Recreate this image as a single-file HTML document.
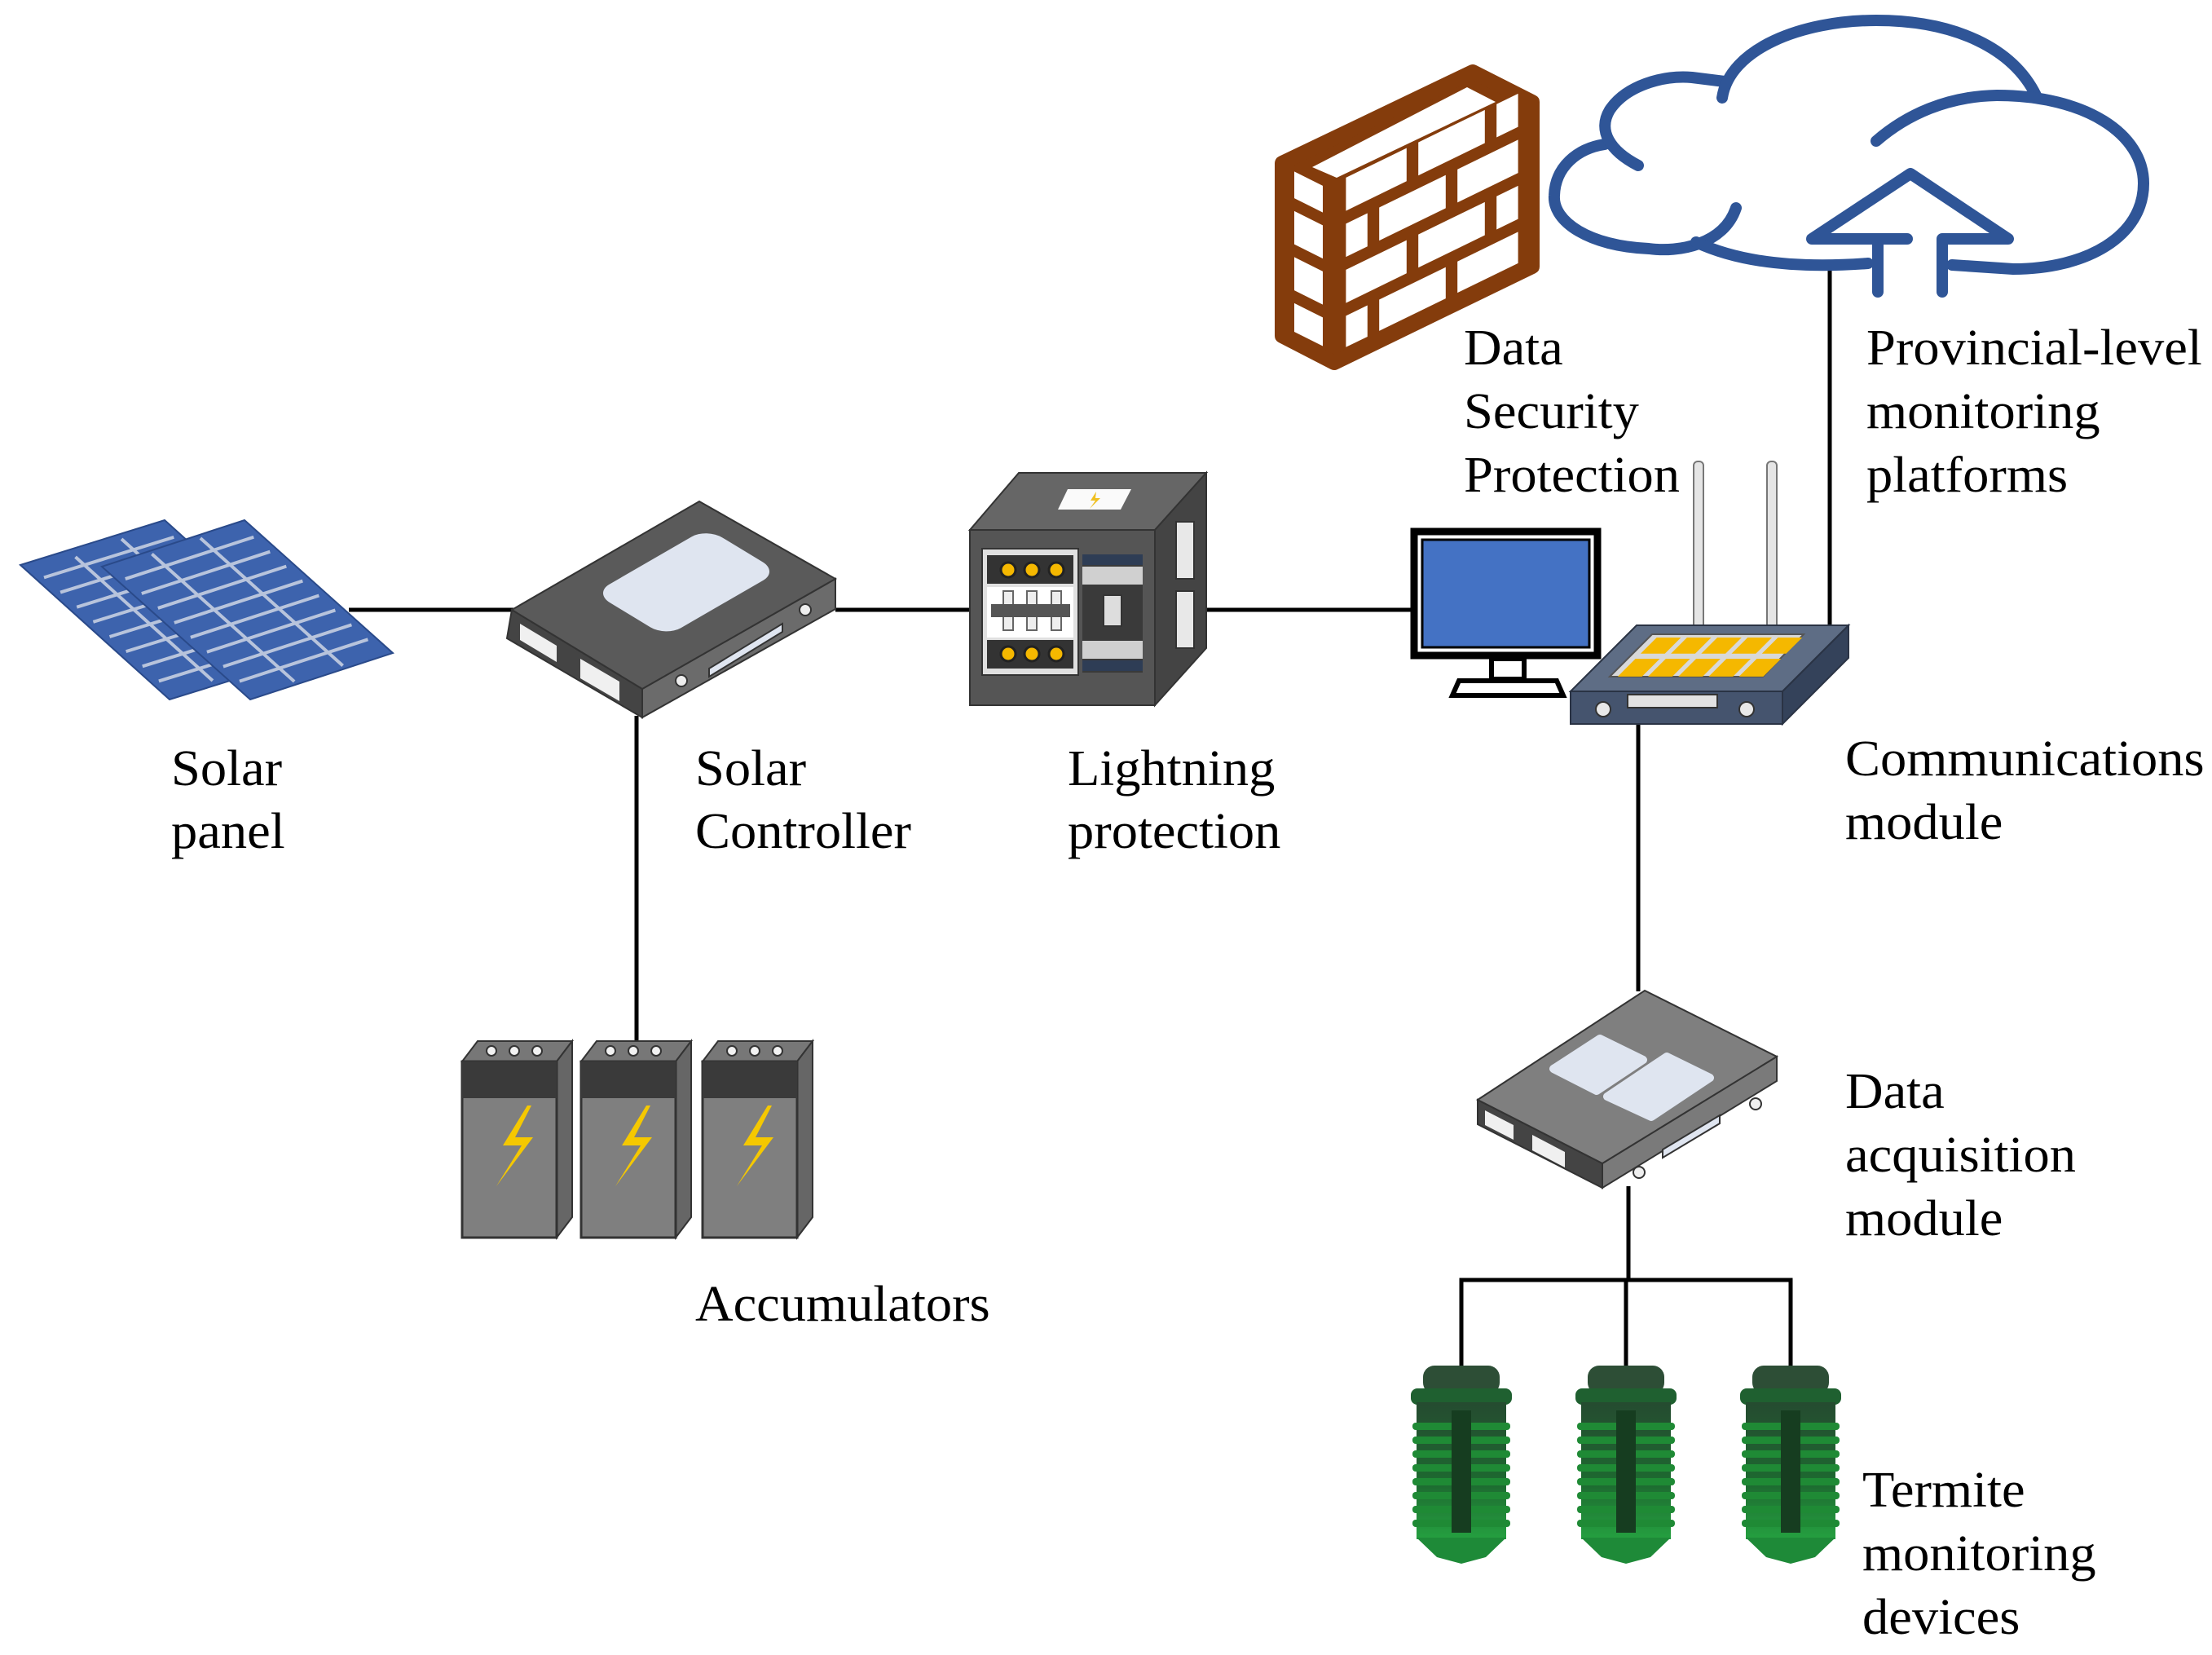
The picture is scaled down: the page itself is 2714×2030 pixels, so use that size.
<!DOCTYPE html>
<html><head><meta charset="utf-8"><style>
html,body{margin:0;padding:0;background:#fff;}
svg{display:block;}
text{font-family:"Liberation Serif","Times New Roman",serif;font-size:62px;fill:#000;}
</style></head><body>
<svg width="2714" height="2030" viewBox="0 0 2714 2030" xmlns="http://www.w3.org/2000/svg">
<!-- connectors -->
<g stroke="#000" stroke-width="5" fill="none">
<line x1="428" y1="748" x2="630" y2="748"/>
<line x1="1025" y1="748" x2="1195" y2="748"/>
<line x1="1480" y1="748" x2="1731" y2="748"/>
<line x1="781" y1="878" x2="781" y2="1280"/>
<line x1="2245" y1="330" x2="2245" y2="768"/>
<line x1="2010" y1="888" x2="2010" y2="1216"/>
<line x1="1998" y1="1455" x2="1998" y2="1570"/>
<polyline points="1793,1684 1793,1570 2197,1570 2197,1684"/>
<line x1="1995" y1="1570" x2="1995" y2="1684"/>
</g>

<!-- solar panels -->
<g>
<g transform="matrix(177,-55,183,165,25,693)">
<polygon points="0,0 1,0 1,1 0,1" fill="#3d63ad" stroke="#2a4a8a" stroke-width="2" vector-effect="non-scaling-stroke"/>
<g stroke="#b8c4dc" stroke-width="4" fill="none">
<line x1="0.33" y1="0.05" x2="0.33" y2="0.97" vector-effect="non-scaling-stroke"/><line x1="0.67" y1="0.03" x2="0.67" y2="0.97" vector-effect="non-scaling-stroke"/>
<line x1="0.05" y1="0.11" x2="0.95" y2="0.11" vector-effect="non-scaling-stroke"/><line x1="0.05" y1="0.22" x2="0.95" y2="0.22" vector-effect="non-scaling-stroke"/><line x1="0.05" y1="0.33" x2="0.95" y2="0.33" vector-effect="non-scaling-stroke"/><line x1="0.05" y1="0.44" x2="0.95" y2="0.44" vector-effect="non-scaling-stroke"/><line x1="0.05" y1="0.55" x2="0.95" y2="0.55" vector-effect="non-scaling-stroke"/><line x1="0.05" y1="0.66" x2="0.95" y2="0.66" vector-effect="non-scaling-stroke"/><line x1="0.05" y1="0.77" x2="0.95" y2="0.77" vector-effect="non-scaling-stroke"/><line x1="0.05" y1="0.88" x2="0.95" y2="0.88" vector-effect="non-scaling-stroke"/>
</g></g>
<g transform="matrix(175,-57,182,163,125,695)">
<polygon points="0,0 1,0 1,1 0,1" fill="#3d63ad" stroke="#2a4a8a" stroke-width="2" vector-effect="non-scaling-stroke"/>
<g stroke="#b8c4dc" stroke-width="4" fill="none">
<line x1="0.33" y1="0.02" x2="0.33" y2="0.98" vector-effect="non-scaling-stroke"/><line x1="0.67" y1="0.02" x2="0.67" y2="0.98" vector-effect="non-scaling-stroke"/>
<line x1="0.05" y1="0.11" x2="0.95" y2="0.11" vector-effect="non-scaling-stroke"/><line x1="0.05" y1="0.22" x2="0.95" y2="0.22" vector-effect="non-scaling-stroke"/><line x1="0.05" y1="0.33" x2="0.95" y2="0.33" vector-effect="non-scaling-stroke"/><line x1="0.05" y1="0.44" x2="0.95" y2="0.44" vector-effect="non-scaling-stroke"/><line x1="0.05" y1="0.55" x2="0.95" y2="0.55" vector-effect="non-scaling-stroke"/><line x1="0.05" y1="0.66" x2="0.95" y2="0.66" vector-effect="non-scaling-stroke"/><line x1="0.05" y1="0.77" x2="0.95" y2="0.77" vector-effect="non-scaling-stroke"/><line x1="0.05" y1="0.88" x2="0.95" y2="0.88" vector-effect="non-scaling-stroke"/>
</g></g>
</g>

<!-- solar controller -->
<g stroke="#333" stroke-width="2">
<polygon points="628,748 788,845 788,880 622,783" fill="#444"/>
<polygon points="788,845 1025,710 1025,747 788,880" fill="#6b6b6b"/>
<polygon points="628,748 858,615 1025,710 788,845" fill="#5a5a5a"/>
</g>
<g transform="matrix(230,-133,160,97,628,748)">
<rect x="0.3" y="0.2" width="0.6" height="0.55" rx="0.08" ry="0.12" fill="#dfe5f0"/>
</g>
<polygon points="638,765 683,792 683,812 638,785" fill="#f0f0f0"/>
<polygon points="712,808 760,836 760,860 712,832" fill="#f0f0f0"/>
<polygon points="870,820 960,765 960,775 870,830" fill="#dfe5f0" stroke="#333" stroke-width="2"/>
<circle cx="836" cy="835" r="7" fill="#eee" stroke="#333" stroke-width="2"/>
<circle cx="988" cy="748" r="7" fill="#eee" stroke="#333" stroke-width="2"/>

<!-- lightning protection -->
<g stroke="#333" stroke-width="2">
<polygon points="1190,650 1250,580 1480,580 1417,650" fill="#666"/>
<polygon points="1417,650 1480,580 1480,795 1417,865" fill="#444"/>
<rect x="1190" y="650" width="227" height="215" fill="#555"/>
</g>
<polygon points="1298,625 1310,600 1388,600 1375,625" fill="#fafafa"/>
<path d="M1345,603 L1338,614 L1344,614 L1337,624 L1350,611 L1344,611 Z" fill="#f0c020"/>
<rect x="1205" y="673" width="118" height="155" fill="#e0e0e0" stroke="#333" stroke-width="2"/>
<rect x="1211" y="681" width="106" height="35" fill="#333"/>
<rect x="1211" y="720" width="106" height="62" fill="#fff"/>
<rect x="1211" y="785" width="106" height="35" fill="#333"/>
<g fill="#f5b800" stroke="#222" stroke-width="3">
<circle cx="1237" cy="699" r="9"/><circle cx="1266" cy="699" r="9"/><circle cx="1296" cy="699" r="9"/>
<circle cx="1237" cy="802" r="9"/><circle cx="1266" cy="802" r="9"/><circle cx="1296" cy="802" r="9"/>
</g>
<g fill="#eee" stroke="#666" stroke-width="2">
<rect x="1231" y="725" width="12" height="48"/><rect x="1260" y="725" width="12" height="48"/><rect x="1290" y="725" width="12" height="48"/>
</g>
<rect x="1216" y="741" width="97" height="16" fill="#555"/>
<rect x="1328" y="680" width="74" height="145" fill="#3a3a3a"/>
<rect x="1328" y="680" width="74" height="13" fill="#2e3d55"/>
<rect x="1328" y="695" width="74" height="22" fill="#d0d0d0"/>
<rect x="1328" y="786" width="74" height="22" fill="#d0d0d0"/>
<rect x="1328" y="810" width="74" height="13" fill="#2e3d55"/>
<rect x="1354" y="730" width="22" height="38" fill="#ddd" stroke="#333" stroke-width="2"/>
<rect x="1443" y="640" width="22" height="70" fill="#e8e8e8" stroke="#333" stroke-width="2"/>
<rect x="1443" y="725" width="22" height="70" fill="#e8e8e8" stroke="#333" stroke-width="2"/>

<!-- batteries -->
<g id="bat">
<polygon points="567,1302 586,1277 702,1277 683,1302" fill="#777" stroke="#333" stroke-width="2"/>
<polygon points="683,1302 702,1277 702,1493 683,1518" fill="#666" stroke="#333" stroke-width="2"/>
<rect x="567" y="1302" width="116" height="216" fill="#7f7f7f" stroke="#333" stroke-width="3"/>
<rect x="567" y="1302" width="116" height="45" fill="#3a3a3a"/>
<circle cx="603" cy="1289" r="6" fill="#f2f2f2" stroke="#333" stroke-width="2"/>
<circle cx="631" cy="1289" r="6" fill="#f2f2f2" stroke="#333" stroke-width="2"/>
<circle cx="659" cy="1289" r="6" fill="#f2f2f2" stroke="#333" stroke-width="2"/>
<polygon points="647,1356 617,1405 640,1405 609,1455 654,1395 632,1395 652,1356" fill="#f5c800"/>
</g>
<use href="#bat" transform="translate(146,0)"/>
<use href="#bat" transform="translate(295,0)"/>

<!-- firewall -->
<polygon points="1573,200 1807,88 1880,125 1880,327 1637,445 1573,412" fill="#843c0c" stroke="#843c0c" stroke-width="18" stroke-linejoin="round"/>
<polygon points="1610,205 1800,107 1835,125 1640,218" fill="#fff"/>
<g transform="matrix(240,-117,0,226,1637,217)" fill="#fff">
<polygon points="0.06,0.035 0.37,0.035 0.37,0.215 0.06,0.215"/><polygon points="0.43,0.035 0.77,0.035 0.77,0.215 0.43,0.215"/><polygon points="0.83,0.035 0.94,0.035 0.94,0.215 0.83,0.215"/>
<polygon points="0.06,0.285 0.17,0.285 0.17,0.465 0.06,0.465"/><polygon points="0.23,0.285 0.57,0.285 0.57,0.465 0.23,0.465"/><polygon points="0.63,0.285 0.94,0.285 0.94,0.465 0.63,0.465"/>
<polygon points="0.06,0.535 0.37,0.535 0.37,0.715 0.06,0.715"/><polygon points="0.43,0.535 0.77,0.535 0.77,0.715 0.43,0.715"/><polygon points="0.83,0.535 0.94,0.535 0.94,0.715 0.83,0.715"/>
<polygon points="0.06,0.785 0.17,0.785 0.17,0.955 0.06,0.955"/><polygon points="0.23,0.785 0.57,0.785 0.57,0.955 0.23,0.955"/><polygon points="0.63,0.785 0.94,0.785 0.94,0.955 0.63,0.955"/>
</g>
<g transform="matrix(50,25,0,226,1583,192)" fill="#fff">
<polygon points="0.1,0.07 0.8,0.07 0.8,0.215 0.1,0.215"/>
<polygon points="0.1,0.285 0.8,0.285 0.8,0.465 0.1,0.465"/>
<polygon points="0.1,0.535 0.8,0.535 0.8,0.715 0.1,0.715"/>
<polygon points="0.1,0.785 0.8,0.785 0.8,0.94 0.1,0.94"/>
</g>

<!-- cloud -->
<g fill="none" stroke="#2f5597" stroke-width="14" stroke-linecap="round" stroke-linejoin="round">
<path d="M2130,255 C2115,300 2060,310 2023,305 C1950,302 1905,272 1907,240 C1908,205 1935,182 1969,177"/>
<path d="M2010,203 C1975,185 1960,160 1975,135 C1995,105 2040,92 2076,95 L2116,100"/>
<path d="M2113,120 C2122,60 2210,25 2302,25 C2400,25 2470,60 2498,117"/>
<path d="M2302,173 C2340,140 2390,118 2450,117 C2560,117 2630,165 2630,225 C2630,290 2560,330 2470,330 L2395,325"/>
<path d="M2081,297 C2130,320 2200,330 2292,323"/>
<path d="M2340,293 L2223,293 L2344,213 L2464,293 L2383,293 L2383,358 M2304,293 L2304,358"/>
</g>

<!-- monitor -->
<rect x="1735" y="652" width="225" height="152" fill="#fff" stroke="#000" stroke-width="9"/>
<rect x="1745" y="662" width="205" height="132" fill="#4472c4" stroke="#000" stroke-width="3"/>
<rect x="1830" y="808" width="40" height="25" fill="#fff" stroke="#000" stroke-width="6"/>
<polygon points="1790,835 1910,835 1918,853 1782,853" fill="#fff" stroke="#000" stroke-width="6"/>

<!-- router -->
<rect x="2078" y="566" width="12" height="205" rx="5" fill="#e5e5e5" stroke="#777" stroke-width="2"/>
<rect x="2168" y="566" width="12" height="205" rx="5" fill="#e5e5e5" stroke="#777" stroke-width="2"/>
<g stroke="#2a3344" stroke-width="2">
<polygon points="2187,848 2268,767 2268,807 2187,888" fill="#34425a"/>
<rect x="1927" y="848" width="260" height="40" fill="#45546e"/>
<polygon points="1927,848 2008,767 2268,767 2187,848" fill="#5e6d85"/>
</g>
<polygon points="1975,830 2027,778 2213,778 2163,830" fill="#d8d8d8" stroke="#555" stroke-width="2"/>
<g transform="matrix(37.2,0,-10.4,10.4,2030,781)" fill="#f5b800" stroke="none">
<rect x="0.1" y="0.1" width="0.8" height="1.9"/><rect x="1.1" y="0.1" width="0.8" height="1.9"/><rect x="2.1" y="0.1" width="0.8" height="1.9"/><rect x="3.1" y="0.1" width="0.8" height="1.9"/><rect x="4.1" y="0.1" width="0.8" height="1.9"/>
<rect x="0.1" y="2.6" width="0.8" height="2.1"/><rect x="1.1" y="2.6" width="0.8" height="2.1"/><rect x="2.1" y="2.6" width="0.8" height="2.1"/><rect x="3.1" y="2.6" width="0.8" height="2.1"/><rect x="4.1" y="2.6" width="0.8" height="2.1"/>
</g>
<rect x="1997" y="852" width="110" height="16" fill="#e2e2e2" stroke="#333" stroke-width="2"/>
<circle cx="1967" cy="870" r="9" fill="#e8e8e8" stroke="#333" stroke-width="2"/>
<circle cx="2143" cy="870" r="9" fill="#e8e8e8" stroke="#333" stroke-width="2"/>

<!-- data acquisition module -->
<g stroke="#333" stroke-width="2">
<polygon points="1813,1349 1966,1427 1966,1457 1813,1379" fill="#444"/>
<polygon points="1966,1427 2180,1296 2180,1326 1966,1457" fill="#7a7a7a"/>
<polygon points="1813,1349 2018,1215 2180,1296 1966,1427" fill="#7f7f7f"/>
</g>
<g fill="#dfe5f0" stroke="#dfe5f0" stroke-width="10" stroke-linejoin="round">
<polygon points="1906,1311 1963,1274 2016,1300 1959,1338"/>
<polygon points="1972,1345 2045,1296 2098,1322 2026,1370"/>
</g>
<polygon points="1822,1362 1857,1380 1857,1398 1822,1380" fill="#f0f0f0"/>
<polygon points="1880,1392 1920,1413 1920,1432 1880,1411" fill="#f0f0f0"/>
<polygon points="2040,1410 2110,1368 2110,1378 2040,1420" fill="#dfe5f0" stroke="#333" stroke-width="2"/>
<circle cx="2011" cy="1438" r="7" fill="#eee" stroke="#333" stroke-width="2"/>
<circle cx="2154" cy="1354" r="7" fill="#eee" stroke="#333" stroke-width="2"/>

<!-- termite devices -->
<defs>
<linearGradient id="tg" x1="0" y1="0" x2="0" y2="1">
<stop offset="0" stop-color="#254b30"/><stop offset="0.6" stop-color="#1d6a30"/><stop offset="1" stop-color="#25a040"/>
</linearGradient>
<g id="term">
<rect x="-47" y="1675" width="94" height="35" rx="14" fill="#2d4e36"/>
<rect x="-62" y="1703" width="124" height="20" rx="8" fill="#1f6030"/>
<rect x="-55" y="1720" width="110" height="168" fill="url(#tg)"/>
<g fill="#1f8a35">
<rect x="-60" y="1745" width="120" height="9" rx="4"/><rect x="-60" y="1762" width="120" height="9" rx="4"/><rect x="-60" y="1779" width="120" height="9" rx="4"/><rect x="-60" y="1796" width="120" height="9" rx="4"/><rect x="-60" y="1813" width="120" height="9" rx="4"/><rect x="-60" y="1830" width="120" height="9" rx="4"/><rect x="-60" y="1847" width="120" height="9" rx="4"/><rect x="-60" y="1864" width="120" height="9" rx="4"/>
</g>
<rect x="-12" y="1730" width="24" height="150" fill="#163d20"/>
<polygon points="-55,1886 55,1886 30,1910 0,1918 -30,1910" fill="#1e8a38"/>
</g>
</defs>
<use href="#term" transform="translate(1793,0)"/>
<use href="#term" transform="translate(1995,0)"/>
<use href="#term" transform="translate(2197,0)"/>

<!-- labels -->
<g font-family="Liberation Serif, serif">
<text transform="translate(210,963) scale(1.04,1)">Solar</text>
<text transform="translate(210,1040) scale(1.04,1)">panel</text>
<text transform="translate(853,963) scale(1.04,1)">Solar</text>
<text transform="translate(853,1040) scale(1.04,1)">Controller</text>
<text transform="translate(1310,963) scale(1.04,1)">Lightning</text>
<text transform="translate(1310,1040) scale(1.04,1)">protection</text>
<text transform="translate(853,1620) scale(1.04,1)">Accumulators</text>
<text transform="translate(1796,447) scale(1.04,1)">Data</text>
<text transform="translate(1796,525) scale(1.04,1)">Security</text>
<text transform="translate(1796,603) scale(1.04,1)">Protection</text>
<text transform="translate(2290,447) scale(1.04,1)">Provincial-level</text>
<text transform="translate(2290,525) scale(1.04,1)">monitoring</text>
<text transform="translate(2290,603) scale(1.04,1)">platforms</text>
<text transform="translate(2264,951) scale(1.04,1)">Communications</text>
<text transform="translate(2264,1029) scale(1.04,1)">module</text>
<text transform="translate(2264,1359) scale(1.04,1)">Data</text>
<text transform="translate(2264,1437) scale(1.04,1)">acquisition</text>
<text transform="translate(2264,1515) scale(1.04,1)">module</text>
<text transform="translate(2285,1848) scale(1.04,1)">Termite</text>
<text transform="translate(2285,1926) scale(1.04,1)">monitoring</text>
<text transform="translate(2285,2004) scale(1.04,1)">devices</text>
</g>
</svg>
</body></html>
